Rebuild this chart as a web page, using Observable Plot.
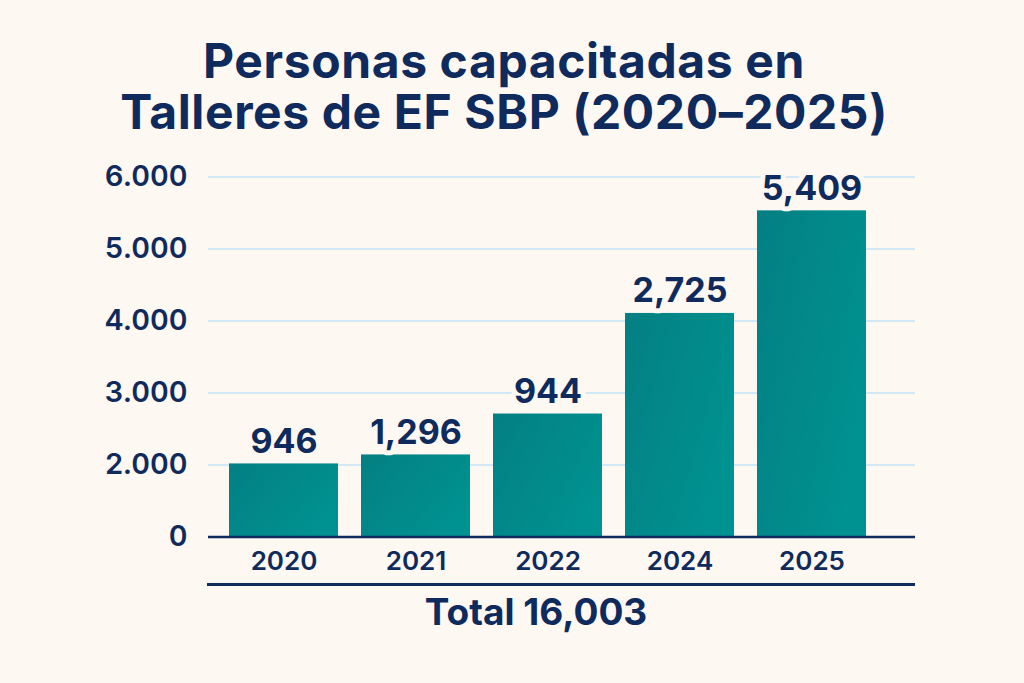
<!DOCTYPE html>
<html>
<head>
<meta charset="utf-8">
<script src="https://cdn.jsdelivr.net/npm/d3@7"></script>
<script src="https://cdn.jsdelivr.net/npm/@observablehq/plot@0.6"></script>
<style>
  html, body { margin: 0; padding: 0; background: #FDF8F2; }
  body { position: relative; width: 1024px; height: 683px; overflow: hidden; font-family: Inter, "Noto Sans", sans-serif; color: #0F2A5C; }
  .tline { position: absolute; left: 504px; transform: translateX(-50%); white-space: nowrap; text-align: center;
           font-size: 48px; line-height: 48px; font-weight: 700; letter-spacing: 0.6px; }
  #t1 { top: 37px; }
  #t2 { top: 88px; }
  #chart { position: absolute; top: 150px; left: 0; }
  #rule { position: absolute; top: 583px; left: 207px; width: 708px; height: 3px; background: #0F2A5C; }
  #total { position: absolute; top: 592px; left: 536px; transform: translateX(-50%); white-space: nowrap;
           font-size: 37px; line-height: 40px; font-weight: 700; }
</style>
</head>
<body>
<div id="t1" class="tline">Personas capacitadas en</div>
<div id="t2" class="tline">Talleres de EF SBP (2020–2025)</div>
<div id="chart"></div>
<div id="rule"></div>
<div id="total">Total 16,003</div>
<script>
// Data
const years = ["2020", "2021", "2022", "2024", "2025"];
const barValues = [2015, 2140, 2708, 4105, 5530];          // bar heights as drawn on the axis
const barLabels = ["946", "1,296", "944", "2,725", "5,409"]; // printed labels
const yTickValues = [1000, 2000, 3000, 4000, 5000, 6000];
const yTickLabels = ["0", "2.000", "3.000", "4.000", "5.000", "6.000"];
const yBase = 1000;       // position of the "0" tick (axis baseline)
const gridValues = [2000, 3000, 4000, 5000, 6000];

const data = years.map((y, i) => ({year: y, value: barValues[i], label: barLabels[i]}));

const navy = "#0F2A5C";
const bg = "#FDF8F2";

const svg = Plot.plot({
  width: 1024,
  height: 440,
  marginLeft: 208,
  marginRight: 109,
  marginTop: 26.5,
  marginBottom: 53.5,
  style: {background: "transparent", fontFamily: "Inter, 'Noto Sans', sans-serif", color: navy, overflow: "visible"},
  x: {type: "band", domain: years, range: [217, 879], paddingInner: 0.174, paddingOuter: 0.087},
  y: {domain: [yBase, 6000], ticks: yTickValues},
  marks: [
    Plot.ruleY(gridValues, {stroke: "#C3E4F6", strokeWidth: 1.6}),
    Plot.barY(data, {x: "year", y1: yBase, y2: "value", fill: "url(#barGrad)"}),
    Plot.ruleY([yBase], {stroke: navy, strokeWidth: 2.5}),
    Plot.text(data, {x: "year", y: "value", text: "label", lineAnchor: "bottom", dy: -11,
      fontSize: 34, fontWeight: 700, fill: navy, stroke: bg, strokeWidth: 10}),
    Plot.axisY({ticks: yTickValues, tickFormat: (d) => yTickLabels[yTickValues.indexOf(d)], tickSize: 0, tickPadding: 21,
      fontSize: 29, fontWeight: 600, fill: navy, label: null}),
    Plot.axisX({tickSize: 0, tickPadding: 15, fontSize: 26, fontWeight: 600, fill: navy, label: null})
  ]
});

const defs = d3.select(svg).insert("defs", ":first-child");
const grad = defs.append("linearGradient").attr("id", "barGrad")
  .attr("x1", 0).attr("y1", 0).attr("x2", 1).attr("y2", 0.6);
grad.append("stop").attr("offset", "0%").attr("stop-color", "#047F82");
grad.append("stop").attr("offset", "100%").attr("stop-color", "#009290");

document.getElementById("chart").appendChild(svg);
</script>
</body>
</html>
